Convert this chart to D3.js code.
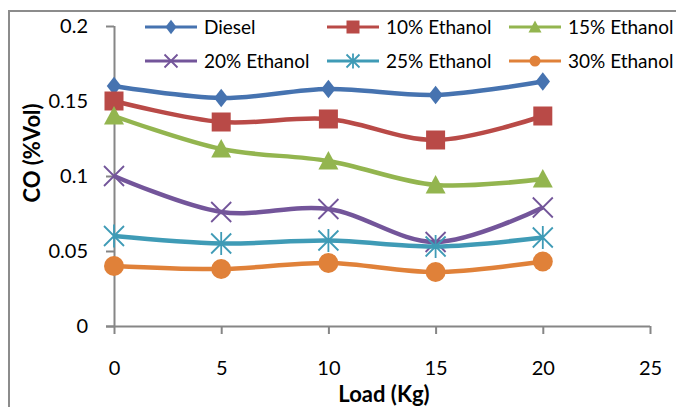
<!DOCTYPE html>
<html>
<head>
<meta charset="utf-8">
<script src="https://cdn.jsdelivr.net/npm/d3@7"></script>
<style>
  html, body { margin: 0; padding: 0; background: #fff; }
  svg { display: block; font-family: Lato, "Open Sans", sans-serif; }
</style>
</head>
<body>
<svg id="chart" width="676" height="407"></svg>
<script>
// Load levels (kg) and CO emissions (% vol) per fuel blend
const loads = [0, 5, 10, 15, 20];
const seriesNames = ["Diesel", "10% Ethanol", "15% Ethanol", "20% Ethanol", "25% Ethanol", "30% Ethanol"];
const diesel    = [0.160, 0.152, 0.158, 0.154, 0.163];
const ethanol10 = [0.150, 0.136, 0.138, 0.124, 0.140];
const ethanol15 = [0.140, 0.118, 0.110, 0.094, 0.098];
const ethanol20 = [0.100, 0.076, 0.078, 0.056, 0.079];
const ethanol25 = [0.060, 0.055, 0.057, 0.053, 0.059];
const ethanol30 = [0.040, 0.038, 0.042, 0.036, 0.043];
const xTicks = [0, 5, 10, 15, 20, 25];
const yTicks = [0, 0.05, 0.1, 0.15, 0.2];
const yTickLabels = ["0", "0.05", "0.1", "0.15", "0.2"];

const seriesValues = [diesel, ethanol10, ethanol15, ethanol20, ethanol25, ethanol30];
const colors = ["#4673b0", "#b94a47", "#93b54f", "#73559a", "#3f9bb6", "#e08139"];
const markers = ["diamond", "square", "triangle", "cross", "star", "circle"];

const svg = d3.select("#chart");

// chart frame
svg.append("path")
  .attr("d", "M9,407 V11 H676")
  .attr("fill", "none")
  .attr("stroke", "#8c8c8c")
  .attr("stroke-width", 2);

const x = d3.scaleLinear().domain([0, 25]).range([114, 650]);
const y = d3.scaleLinear().domain([0, 0.2]).range([326, 26]);

const axisColor = "#868686";

// y axis
const yAxis = svg.append("g")
  .attr("transform", `translate(${x(0)},0)`)
  .call(d3.axisLeft(y).tickValues(yTicks).tickSize(8).tickPadding(18)
    .tickFormat((d, i) => yTickLabels[i]));
// x axis
const xAxis = svg.append("g")
  .attr("transform", `translate(0,${y(0)})`)
  .call(d3.axisBottom(x).tickValues(xTicks).tickSize(8).tickPadding(27));

[yAxis, xAxis].forEach(g => {
  g.select(".domain").attr("stroke", axisColor).attr("stroke-width", 2);
  g.selectAll(".tick line").attr("stroke", axisColor).attr("stroke-width", 2);
  g.selectAll(".tick text").attr("fill", "#000").style("font-size", "20px")
    .style("font-family", "Lato, sans-serif");
});
// x axis line also extends left to the y tick length
xAxis.select(".domain").attr("d", `M${x(0) - 8},0.5H${x(25)}`);
yAxis.select(".domain").attr("d", `M0.5,${y(0.2)}V${y(0)}`);
xAxis.selectAll(".tick text").attr("dy", "0.71em");

// axis titles
svg.append("text")
  .attr("transform", `translate(40,153) rotate(-90)`)
  .attr("text-anchor", "middle")
  .style("font-size", "22px")
  .style("font-weight", "bold")
  .text("CO (%Vol)");
svg.append("text")
  .attr("x", 384).attr("y", 402)
  .attr("text-anchor", "middle")
  .style("font-size", "22px")
  .style("font-weight", "bold")
  .text("Load (Kg)");

// marker drawing
function drawMarker(g, type, color, s) {
  const h = s / 2;
  if (type === "diamond") {
    g.append("path").attr("d", `M0,${-h * 1.1}L${h * 0.85},0L0,${h * 1.1}L${-h * 0.85},0Z`).attr("fill", color);
  } else if (type === "square") {
    g.append("rect").attr("x", -h).attr("y", -h).attr("width", s).attr("height", s).attr("fill", color);
  } else if (type === "triangle") {
    g.append("path").attr("d", `M0,${-h}L${h},${h * 0.85}L${-h},${h * 0.85}Z`).attr("fill", color);
  } else if (type === "circle") {
    g.append("circle").attr("r", h).attr("fill", color);
  } else if (type === "cross") {
    g.append("path").attr("d", `M${-h},${-h}L${h},${h}M${-h},${h}L${h},${-h}`)
      .attr("stroke", color).attr("stroke-width", 1.8).attr("fill", "none");
  } else if (type === "star") {
    g.append("path").attr("d", `M${-h},${-h}L${h},${h}M${-h},${h}L${h},${-h}M0,${-h * 1.15}L0,${h * 1.15}`)
      .attr("stroke", color).attr("stroke-width", 1.8).attr("fill", "none");
  }
}

const line = d3.line()
  .x((d, i) => x(loads[i]))
  .y(d => y(d))
  .curve(d3.curveCatmullRom.alpha(0.5));

const markerSize = [17, 19, 20, 20, 20, 20];

seriesValues.forEach((vals, si) => {
  const g = svg.append("g");
  g.append("path")
    .datum(vals)
    .attr("d", line)
    .attr("fill", "none")
    .attr("stroke", colors[si])
    .attr("stroke-width", 4.5)
    .attr("stroke-linejoin", "round");
  vals.forEach((v, i) => {
    const m = g.append("g").attr("transform", `translate(${x(loads[i])},${y(v)})`);
    drawMarker(m, markers[si], colors[si], markerSize[si]);
  });
});

// legend, three columns by two rows
const legendCols = [145, 327, 509];
const legendRows = [27, 61];
seriesNames.forEach((name, si) => {
  const col = si % 3, row = Math.floor(si / 3);
  const g = svg.append("g").attr("transform", `translate(${legendCols[col]},${legendRows[row]})`);
  g.append("line").attr("x1", 0).attr("x2", 52).attr("y1", 0).attr("y2", 0)
    .attr("stroke", colors[si]).attr("stroke-width", 3);
  const m = g.append("g").attr("transform", "translate(26,0)");
  drawMarker(m, markers[si], colors[si], si === 5 ? 11 : 13);
  g.append("text").attr("x", 59).attr("y", 0).attr("dy", "0.35em")
    .style("font-size", "19px").attr("fill", "#000").text(name);
});
</script>
</body>
</html>
